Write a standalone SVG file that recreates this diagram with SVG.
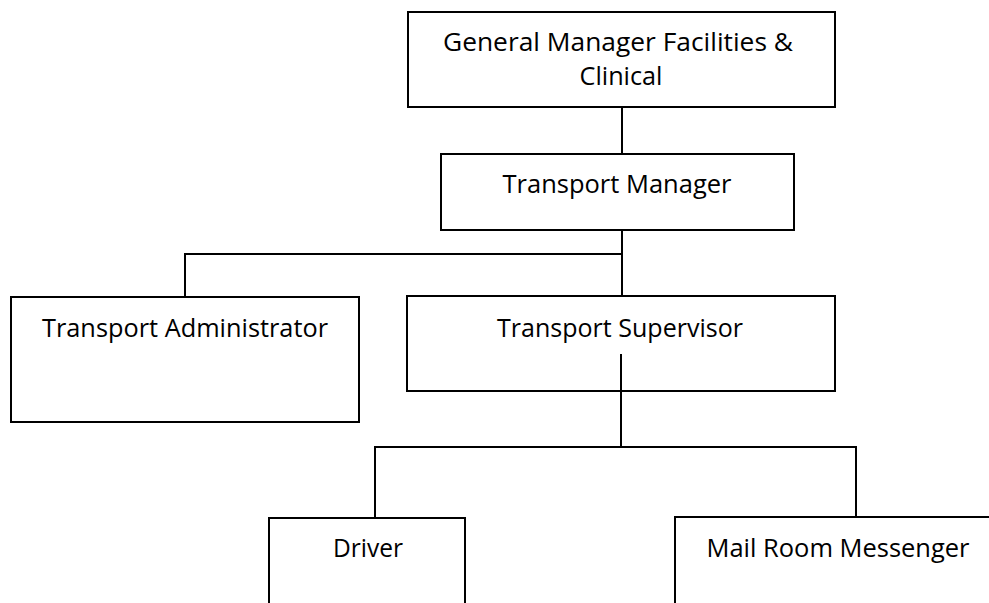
<svg xmlns="http://www.w3.org/2000/svg" width="989" height="603" viewBox="0 0 989 603">
<style>
.box{fill:#fff;stroke:#000;stroke-width:2}
.ln{fill:none;stroke:#000;stroke-width:2}
text{font-family:"Open Sans","Liberation Sans",sans-serif;font-size:25px;fill:#000;text-anchor:middle}
</style>
<rect width="989" height="603" fill="#fff"/>
<g id="gm">
<rect class="box" x="408" y="12" width="427" height="95"/>
<text x="618" y="51" textLength="350" lengthAdjust="spacingAndGlyphs">General Manager Facilities &amp;</text>
<text x="621" y="85" textLength="83" lengthAdjust="spacingAndGlyphs">Clinical</text>
</g>
<g id="tm">
<rect class="box" x="441" y="154" width="353" height="76"/>
<text x="617" y="193" textLength="229" lengthAdjust="spacingAndGlyphs">Transport Manager</text>
</g>
<g id="ta">
<rect class="box" x="11" y="297" width="348" height="125"/>
<text x="185" y="337" textLength="286" lengthAdjust="spacingAndGlyphs">Transport Administrator</text>
</g>
<g id="ts">
<rect class="box" x="407" y="296" width="428" height="95"/>
<text x="620" y="337" textLength="246" lengthAdjust="spacingAndGlyphs">Transport Supervisor</text>
</g>
<g id="driver">
<rect class="box" x="269" y="518" width="196" height="100"/>
<text x="368" y="557" textLength="70" lengthAdjust="spacingAndGlyphs">Driver</text>
</g>
<g id="mail">
<rect class="box" x="675" y="517" width="330" height="100"/>
<text x="838" y="557" textLength="263" lengthAdjust="spacingAndGlyphs">Mail Room Messenger</text>
</g>
<g id="connectors">
<line class="ln" x1="622" y1="107" x2="622" y2="154"/>
<polyline class="ln" points="622,230 622,296"/>
<polyline class="ln" points="185,297 185,254 622,254"/>
<line class="ln" x1="621" y1="354" x2="621" y2="447"/>
<polyline class="ln" points="375,518 375,447 856,447 856,517"/>
</g>
</svg>
